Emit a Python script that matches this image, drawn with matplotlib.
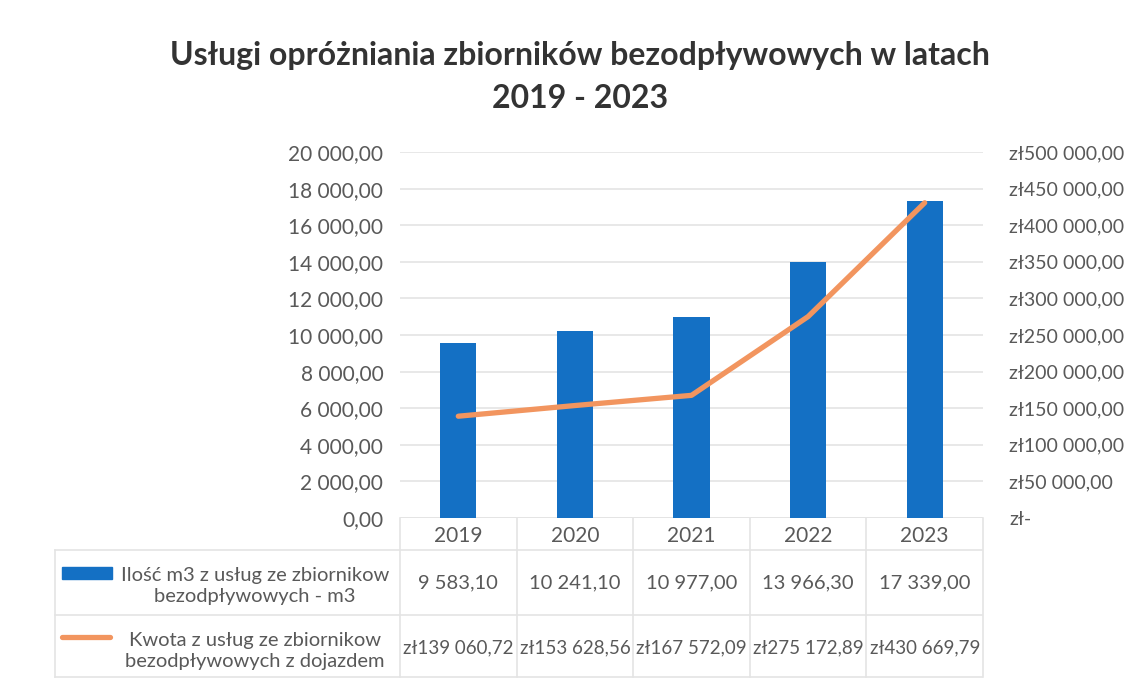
import matplotlib
matplotlib.use("Agg")
import matplotlib.pyplot as plt
import matplotlib.transforms as mtransforms
from matplotlib.ticker import FuncFormatter, MultipleLocator

plt.rcParams['font.family'] = ['Lato', 'DejaVu Sans']

years = ['2019', '2020', '2021', '2022', '2023']
volume_m3 = [9583.10, 10241.10, 10977.00, 13966.30, 17339.00]
amount_pln = [139060.72, 153628.56, 167572.09, 275172.89, 430669.79]
volume_label = 'Ilość m3 z usług ze zbiornikow\nbezodpływowych - m3'
amount_label = 'Kwota z usług ze zbiornikow\nbezodpływowych z dojazdem'
title = 'Usługi opróżniania zbiorników bezodpływowych w latach\n2019 - 2023'

BLUE = '#1470C4'
ORANGE = '#F2955F'
TXT = '#595959'
GRID = '#E4E4E4'

W, H = 1139, 686


def fx(x):
    return x / W


def fy(y):
    return 1 - y / H


def pl_num(v):
    # polish style: space thousands, comma decimals
    s = f'{v:,.2f}'
    return s.replace(',', ' ').replace('.', ',')


def pl_money(v):
    if v == 0:
        return 'zł-'
    return 'zł' + pl_num(v)


fig = plt.figure(figsize=(W / 100, H / 100), dpi=100)
ax = fig.add_axes([fx(400), fy(518), fx(983) - fx(400), fy(152) - fy(518)])
ax2 = ax.twinx()

x = list(range(len(years)))
ax.bar(x, volume_m3, width=0.31, color=BLUE, zorder=3)
ax.set_xlim(-0.5, len(years) - 0.5)
ax.set_ylim(0, 20000)
ax.yaxis.set_major_locator(MultipleLocator(2000))
ax.yaxis.set_major_formatter(FuncFormatter(lambda v, p: pl_num(v)))
ax.grid(axis='y', color=GRID, lw=1.2, zorder=0)
ax.set_axisbelow(True)
ax.set_xticks(x)
ax.set_xticklabels(years)
ax.tick_params(axis='x', length=0, pad=6, labelsize=15, labelcolor=TXT)
ax.tick_params(axis='y', length=0, pad=12, labelsize=15, labelcolor=TXT)

ax2.plot(x, amount_pln, color=ORANGE, lw=3.8, solid_capstyle='round', zorder=4)
ax2.set_ylim(0, 500000)
ax2.yaxis.set_major_locator(MultipleLocator(50000))
ax2.yaxis.set_major_formatter(FuncFormatter(lambda v, p: pl_money(v)))
ax2.tick_params(axis='y', length=0, pad=19, labelsize=14, labelcolor=TXT)

for a in (ax, ax2):
    for s in a.spines.values():
        s.set_visible(False)
ax.axhline(0, color=GRID, lw=1.2, zorder=1)

fig.text(fx(580), fy(77), title, ha='center', va='center', fontsize=23,
         fontweight='bold', color='#333333', linespacing=1.55)

# data table under the chart
tr = mtransforms.blended_transform_factory(ax.transData, fig.transFigure)
row_lines = [550, 615, 677]
for yl in row_lines:
    fig.add_artist(plt.Line2D([fx(55), fx(982)], [fy(yl), fy(yl)],
                              color=GRID, lw=1.2))
fig.add_artist(plt.Line2D([fx(55), fx(55)], [fy(550), fy(677)], color=GRID, lw=1.2))
for i in range(len(years) + 1):
    fig.add_artist(plt.Line2D([i - 0.5, i - 0.5], [fy(518), fy(677)],
                              color=GRID, lw=1.2, transform=tr))

for i in x:
    fig.text(i, fy(583), pl_num(volume_m3[i]), transform=tr, ha='center',
             va='center', fontsize=14.5, color=TXT)
    fig.text(i, fy(648), pl_money(amount_pln[i]), transform=tr, ha='center',
             va='center', fontsize=13.5, color=TXT)

fig.text(fx(255), fy(586), volume_label, ha='center', va='center',
         fontsize=14.5, color=TXT, linespacing=1.3)
fig.text(fx(255), fy(651), amount_label, ha='center', va='center',
         fontsize=14.5, color=TXT, linespacing=1.3)
fig.add_artist(plt.Rectangle((fx(62), fy(579)), fx(50), fy(567) - fy(579),
                             color=BLUE))
fig.add_artist(plt.Line2D([fx(62), fx(110)], [fy(637), fy(637)], color=ORANGE,
                          lw=3.8, solid_capstyle='round'))

fig.savefig('out.png', dpi=100, facecolor='white')
